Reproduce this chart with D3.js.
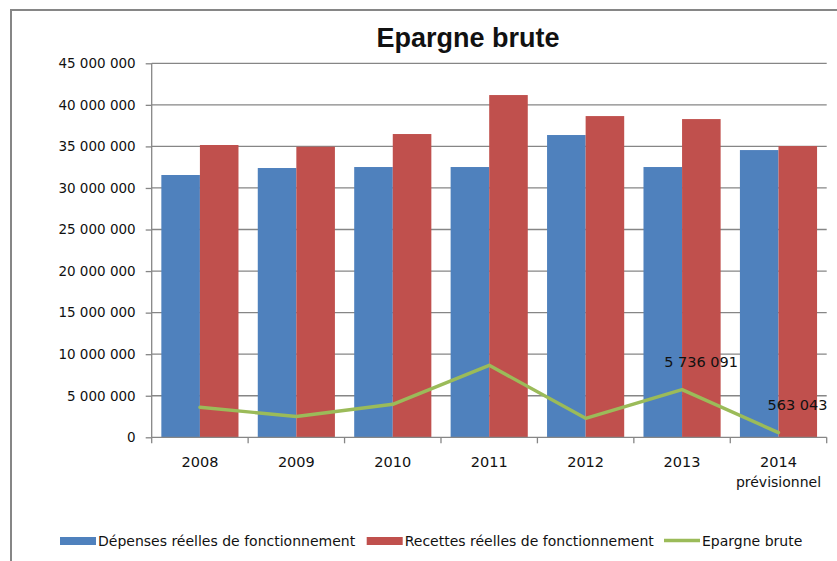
<!DOCTYPE html>
<html lang="fr">
<head>
    <meta charset="UTF-8">
    <script src="https://cdn.jsdelivr.net/npm/d3@7"></script>
    <title>Epargne brute</title>
    <style>
        body { margin: 0; background: #fff; }
        text { font-family: "DejaVu Sans", sans-serif; fill: #111; }
    </style>
</head>
<body>
</body>
<script>

    // données
    let years = ["2008", "2009", "2010", "2011", "2012", "2013", "2014"]
    let yearSub = ["", "", "", "", "", "", "prévisionnel"]
    let depenses = [31560000, 32400000, 32520000, 32520000, 36370000, 32520000, 34560000]
    let recettes = [35170000, 34960000, 36490000, 41180000, 38650000, 38290000, 35040000]
    let epargne = [3610000, 2500000, 3970000, 8660000, 2280000, 5736091, 563043]
    let labelled = [false, false, false, false, false, true, true]
    let yTicks = [0, 5e6, 10e6, 15e6, 20e6, 25e6, 30e6, 35e6, 40e6, 45e6]
    let seriesNames = ["Dépenses réelles de fonctionnement", "Recettes réelles de fonctionnement", "Epargne brute"]
    let colors = ["#4f81bd", "#c0504d", "#9bbb59"]

    let width = 837,
        height = 561,
        plotLeft = 151.7,
        plotRight = 826.7,
        plotTop = 63.3,
        plotBottom = 437.3,
        grey = "#868686"

    let x = d3.scaleBand()
        .domain(years)
        .range([plotLeft, plotRight])

    let sub = d3.scaleBand()
        .domain([0, 1])
        .range([x.bandwidth() * 0.1, x.bandwidth() * 0.9])

    let y = d3.scaleLinear()
        .domain([0, 45e6])
        .range([plotBottom, plotTop])

    let fmt = v => d3.format(",")(v).replace(/,/g, " ")

    let svg = d3.select("body")
        .append("svg")
        .attr("width", width)
        .attr("height", height)

    // cadre
    svg.append("rect")
        .attr("x", 11).attr("y", 10)
        .attr("width", 900).attr("height", 600)
        .attr("fill", "none")
        .attr("stroke", grey)
        .attr("stroke-width", 2)

    svg.append("text")
        .attr("x", 468).attr("y", 46.5)
        .attr("text-anchor", "middle")
        .style("font-family", "'Liberation Sans', sans-serif")
        .style("font-weight", "bold")
        .style("font-size", "27px")
        .text("Epargne brute")

    // grille
    svg.append("g").selectAll("line")
        .data(yTicks.slice(1))
        .enter()
        .append("line")
        .attr("x1", plotLeft).attr("x2", plotRight)
        .attr("y1", d => y(d)).attr("y2", d => y(d))
        .attr("stroke", grey)
        .attr("stroke-width", 1.3)

    // axe y
    let yAxis = svg.append("g")
        .attr("transform", "translate(" + plotLeft + ",0)")
        .call(d3.axisLeft(y).tickValues(yTicks).tickSize(6).tickPadding(10).tickFormat(fmt))
    yAxis.selectAll("line, path").attr("stroke", grey).attr("stroke-width", 1.3)
    yAxis.selectAll("text").style("font-size", "13.5px").attr("fill", "#111")
    yAxis.select(".domain").attr("d", "M0," + plotTop + "V" + plotBottom)

    // barres
    let data = [depenses, recettes]
    data.forEach(function (set, i) {
        svg.append("g").selectAll("rect")
            .data(set)
            .enter()
            .append("rect")
            .attr("x", (d, j) => x(years[j]) + sub(i))
            .attr("width", sub.bandwidth())
            .attr("y", d => y(d))
            .attr("height", d => plotBottom - y(d))
            .attr("fill", colors[i])
    })

    // axe x
    let xAxis = svg.append("g")
        .attr("transform", "translate(0," + plotBottom + ")")
    xAxis.append("line")
        .attr("x1", plotLeft).attr("x2", plotRight)
        .attr("stroke", grey).attr("stroke-width", 1.3)
    xAxis.selectAll("line.tick")
        .data(years.concat(["end"]))
        .enter()
        .append("line")
        .attr("class", "tick")
        .attr("x1", (d, i) => plotLeft + i * x.bandwidth())
        .attr("x2", (d, i) => plotLeft + i * x.bandwidth())
        .attr("y1", 0).attr("y2", 6)
        .attr("stroke", grey).attr("stroke-width", 1.3)
    xAxis.selectAll("text.year")
        .data(years)
        .enter()
        .append("text")
        .attr("class", "year")
        .attr("x", d => x(d) + x.bandwidth() / 2)
        .attr("y", 29.5)
        .attr("text-anchor", "middle")
        .style("font-size", "14.5px")
        .text(d => d)
    xAxis.selectAll("text.sub")
        .data(yearSub)
        .enter()
        .append("text")
        .attr("class", "sub")
        .attr("x", (d, i) => x(years[i]) + x.bandwidth() / 2)
        .attr("y", 49.5)
        .attr("text-anchor", "middle")
        .style("font-size", "14px")
        .text(d => d)

    // courbe
    let line = d3.line()
        .x((d, i) => x(years[i]) + x.bandwidth() / 2)
        .y(d => y(d))

    svg.append("path")
        .attr("d", line(epargne))
        .attr("fill", "none")
        .attr("stroke", colors[2])
        .attr("stroke-width", 3.4)
        .attr("stroke-linejoin", "round")
        .attr("stroke-linecap", "round")

    svg.append("g").selectAll("text")
        .data(epargne.filter((d, i) => labelled[i]))
        .enter()
        .append("text")
        .attr("x", d => x(years[epargne.indexOf(d)]) + x.bandwidth() / 2 + 19)
        .attr("y", d => y(d) - 23)
        .attr("text-anchor", "middle")
        .style("font-size", "14.5px")
        .text(fmt)

    // légende
    let legendX = [60, 366.7, 664]
    let legend = svg.append("g")
    seriesNames.forEach(function (name, i) {
        if (i < 2) {
            legend.append("rect")
                .attr("x", legendX[i]).attr("y", 537)
                .attr("width", 36).attr("height", 8)
                .attr("fill", colors[i])
        } else {
            legend.append("line")
                .attr("x1", legendX[i]).attr("x2", legendX[i] + 36)
                .attr("y1", 540.5).attr("y2", 540.5)
                .attr("stroke", colors[i])
                .attr("stroke-width", 3.4)
        }
        legend.append("text")
            .attr("x", legendX[i] + 38)
            .attr("y", 546)
            .style("font-size", "14px")
            .text(name)
    })

</script>
</html>
